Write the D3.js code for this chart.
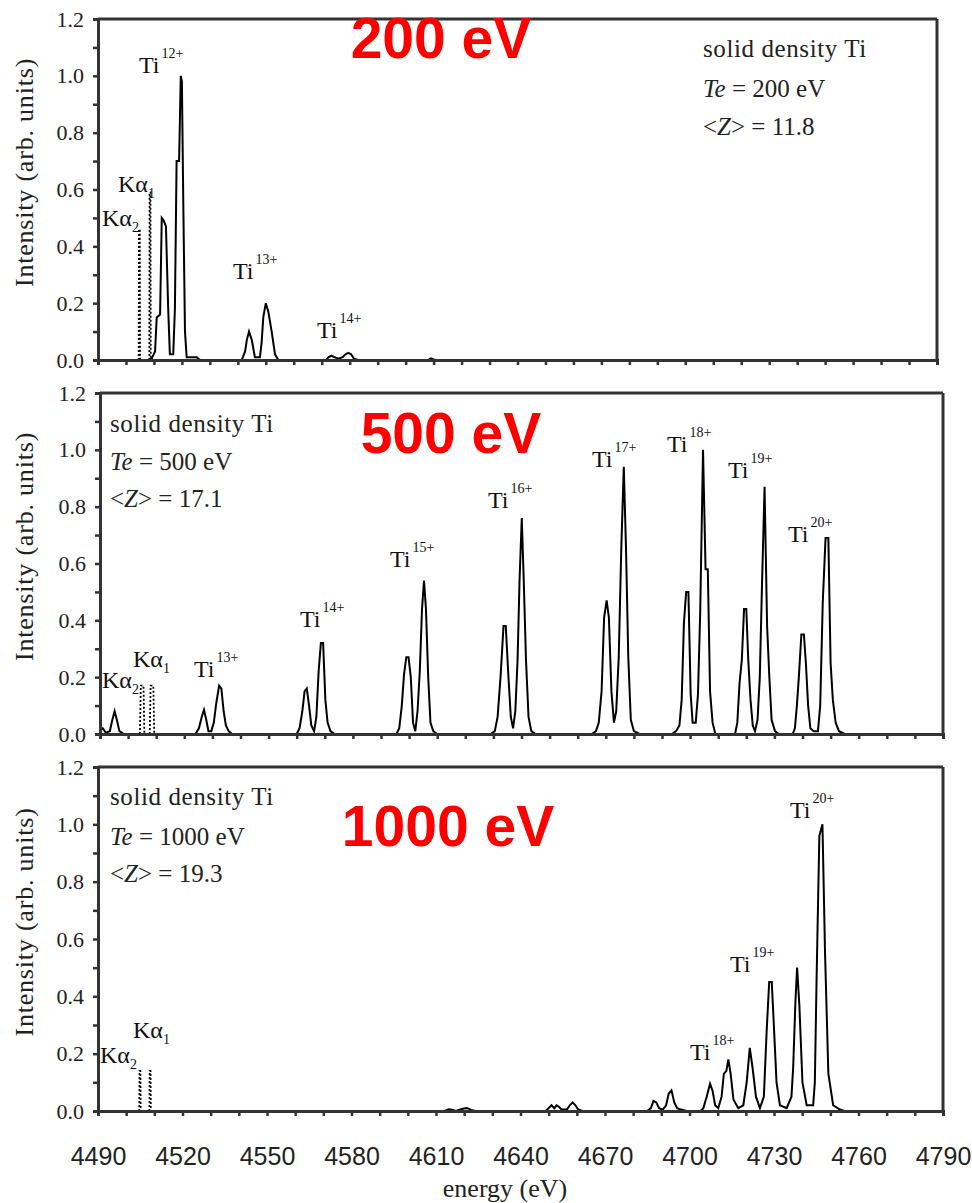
<!DOCTYPE html>
<html><head><meta charset="utf-8">
<script src="https://cdn.jsdelivr.net/npm/d3@7"></script>
<style>body{margin:0;background:#fff}</style>
</head><body>
<svg id="chart" width="972" height="1203"></svg>
<script>
// ---------------- data ----------------
const energyTickLabels = [4490, 4520, 4550, 4580, 4610, 4640, 4670, 4700, 4730, 4760, 4790];
const intensityTickLabels = [0.0, 0.2, 0.4, 0.6, 0.8, 1.0, 1.2];
const panelTitles = ["200 eV", "500 eV", "1000 eV"];
const teValues = ["200", "500", "1000"];
const zValues = ["11.8", "17.1", "19.3"];

// spectra: [energy (eV), intensity]
const spectrum200 = [
  [4490,0],[4508,0],[4509.2,0.005],[4510.4,0.03],[4511,0.15],[4512.2,0.16],[4512.8,0.5],[4513.5,0.49],[4514.3,0.47],
  [4515.1,0.18],[4515.7,0.02],[4516.9,0.02],[4517.5,0.18],[4518.1,0.7],[4519,0.7],[4519.6,1.0],[4520,0.98],[4520.5,0.55],
  [4521.1,0.1],[4521.7,0.01],[4525.3,0.01],[4526.5,0],
  [4541.4,0],[4542.6,0.03],[4543.2,0.07],[4544,0.1],[4545,0.07],[4546.1,0.01],[4547.9,0.01],[4548.5,0.06],[4549.1,0.15],
  [4550,0.2],[4550.9,0.17],[4552.1,0.1],[4553.3,0.02],[4554.5,0],
  [4571.5,0],[4572.5,0.01],[4573.5,0.015],[4574.5,0.01],[4576,0.005],[4577.5,0.01],[4578.5,0.02],[4579.5,0.025],
  [4580.5,0.02],[4581.5,0.005],[4583,0],
  [4608,0],[4609,0.006],[4610,0.002],[4611,0],[4790,0]
];
const spectrum500 = [
  [4490,0.01],[4491,0.02],[4492,0.005],[4493.5,0.01],[4494.4,0.05],[4495.2,0.08],[4496,0.05],[4496.9,0.01],[4498.5,0],
  [4524,0],[4525.2,0.02],[4526.2,0.06],[4527,0.085],[4527.8,0.05],[4528.6,0.01],[4529.6,0.01],[4530.5,0.04],[4531.4,0.11],
  [4532.4,0.17],[4533.2,0.16],[4534,0.08],[4534.8,0.03],[4535.8,0.01],[4537,0],
  [4560,0],[4561,0.02],[4562,0.08],[4562.8,0.15],[4563.6,0.16],[4564.4,0.1],[4565.2,0.03],[4566.2,0.01],[4567,0.06],
  [4567.8,0.22],[4568.6,0.32],[4569.4,0.32],[4570.2,0.12],[4571,0.04],[4572,0.01],[4573.5,0],
  [4595.5,0],[4596.5,0.02],[4597.4,0.1],[4598.2,0.21],[4599,0.27],[4599.8,0.27],[4600.6,0.2],[4601.4,0.04],[4602.2,0.01],
  [4603,0.08],[4603.8,0.22],[4604.6,0.44],[4605.3,0.54],[4606,0.44],[4606.8,0.2],[4607.6,0.04],[4608.6,0.01],[4610,0],
  [4629,0],[4630.5,0.01],[4631.5,0.06],[4632.6,0.21],[4633.6,0.38],[4634.4,0.38],[4635.3,0.21],[4636.2,0.06],[4637,0.02],
  [4637.8,0.08],[4638.6,0.26],[4639.3,0.54],[4640.1,0.76],[4640.8,0.54],[4641.6,0.26],[4642.5,0.06],[4643.5,0.01],[4645,0],
  [4665,0],[4666.5,0.01],[4667.5,0.04],[4668.5,0.15],[4669.4,0.41],[4670.3,0.47],[4671.1,0.41],[4672,0.15],[4672.9,0.04],
  [4673.7,0.08],[4674.6,0.27],[4675.5,0.65],[4676.4,0.94],[4677.2,0.65],[4678,0.27],[4678.9,0.05],[4680,0.01],[4682,0],
  [4693.5,0],[4695,0.01],[4696.2,0.03],[4697,0.12],[4697.8,0.39],[4698.6,0.5],[4699.4,0.5],[4700.2,0.14],[4700.9,0.04],
  [4702,0.04],[4702.8,0.14],[4703.6,0.43],[4704.6,1.0],[4705.5,0.58],[4706.3,0.58],[4707.1,0.15],[4708,0.04],[4709,0],
  [4716,0],[4716.8,0.04],[4717.6,0.18],[4718.4,0.26],[4719.2,0.44],[4720,0.44],[4720.7,0.26],[4721.5,0.12],[4722.3,0.03],
  [4723.1,0.01],[4724,0.05],[4724.8,0.2],[4725.6,0.53],[4726.5,0.87],[4727.4,0.38],[4728.2,0.2],[4729,0.05],[4730.2,0.01],[4731.5,0],
  [4736.5,0],[4737.3,0.02],[4738,0.1],[4738.7,0.2],[4739.6,0.35],[4740.5,0.35],[4741.2,0.25],[4742,0.1],[4742.8,0.02],
  [4744,0.01],[4745.5,0.01],[4746.3,0.1],[4747.2,0.46],[4748.2,0.69],[4749.2,0.69],[4750,0.25],[4750.8,0.12],[4751.8,0.04],
  [4753,0.01],[4755,0],[4790,0]
];
const spectrum1000 = [
  [4490,0],[4613,0],[4614.5,0.006],[4616,0.004],[4617,0],[4619.5,0.008],[4621,0.01],[4622.5,0.004],[4624,0],
  [4649,0],[4650,0.01],[4651,0.02],[4652,0.01],[4652.8,0.02],[4653.6,0.015],[4654.6,0.005],[4656.5,0.005],[4657.5,0.02],
  [4658.5,0.03],[4659.5,0.02],[4660.5,0.005],[4662,0],
  [4685,0],[4686.3,0.01],[4687.2,0.035],[4688.2,0.03],[4689.2,0.01],[4690.5,0.005],[4691.7,0.02],[4692.6,0.06],[4693.6,0.072],
  [4694.6,0.03],[4695.6,0.01],[4697,0.005],[4699,0],
  [4704,0],[4704.9,0.01],[4706.1,0.05],[4707.3,0.095],[4708.2,0.07],[4709.1,0.02],[4710.2,0.01],[4711.4,0.05],[4712.2,0.13],
  [4713.1,0.14],[4713.8,0.18],[4714.6,0.13],[4715.6,0.04],[4717.3,0.01],[4719.1,0.02],[4720.3,0.1],[4721.4,0.22],[4722.4,0.15],
  [4723.6,0.05],[4725,0.01],[4726.4,0.05],[4727.4,0.28],[4728.3,0.45],[4729.2,0.45],[4729.7,0.35],[4730.9,0.1],[4732.1,0.02],
  [4734.5,0.01],[4736.2,0.05],[4736.8,0.15],[4737.6,0.38],[4738.2,0.5],[4739,0.37],[4740.1,0.1],[4741.6,0.02],[4743.9,0.02],
  [4744.5,0.1],[4745.1,0.45],[4746.1,0.96],[4747.2,1.0],[4748.1,0.56],[4749.3,0.13],[4751,0.02],[4753.4,0.005],[4755,0],[4790,0]
];
// K-alpha reference lines: [energy, height]
const kalpha200 = [[4504.8,0.46],[4508.6,0.59]];
const kalpha500 = [[4505.0,0.17],[4508.5,0.17]];
const kalpha1000 = [[4504.9,0.14],[4508.5,0.14]];
// ion-stage labels
const ions200 = ["12+","13+","14+"];
const ions500 = ["13+","14+","15+","16+","17+","18+","19+","20+"];
const ions1000 = ["18+","19+","20+"];

// ---------------- layout ----------------
const layout = [
  {box:{l:98,r:937,t:19,b:360}, kaWidth:0.25,
   ionPos:[[139,73],[233,279],[317,338]],
   ka1:[118,192], ka2:[102,226],
   info:{x:703,y:[57,97,135]}, title:{x:441,y:58}},
  {box:{l:100,r:943,t:393,b:734}, kaWidth:0.8,
   ionPos:[[194,677],[300,627],[390,567],[488,508],[592,467],[667,452],[728,478],[788,542]],
   ka1:[133,667], ka2:[102,688],
   info:{x:110,y:[432,470,507]}, title:{x:451,y:453}},
  {box:{l:98,r:943,t:767,b:1111}, kaWidth:0.25,
   ionPos:[[690,1060],[730,972],[790,818]],
   ka1:[133,1038], ka2:[100,1063],
   info:{x:110,y:[805,845,882]}, title:{x:448,y:846}}
];
const spectra = [spectrum200, spectrum500, spectrum1000];
const kalphas = [kalpha200, kalpha500, kalpha1000];
const ions = [ions200, ions500, ions1000];

const svg = d3.select("#chart");
const serif = "'Liberation Serif','Times New Roman',serif";
const sans = "'Liberation Sans',Arial,sans-serif";
const frameColor = "#333";

layout.forEach((L, i) => {
  const b = L.box;
  const x = d3.scaleLinear().domain([4490, 4790]).range([b.l, b.r]);
  const y = d3.scaleLinear().domain([0, 1.2]).range([b.b, b.t]);
  const g = svg.append("g");

  // spectrum
  const line = d3.line().x(d => x(d[0])).y(d => y(d[1]));
  g.append("path").datum(spectra[i]).attr("d", line)
    .attr("fill", "none").attr("stroke", "#000").attr("stroke-width", 2).attr("stroke-linejoin", "miter");

  // K-alpha dotted lines
  kalphas[i].forEach(k => {
    const w = L.kaWidth;
    const pts = [[k[0]-w,0],[k[0]-w*0.6,k[1]],[k[0]+w*0.6,k[1]],[k[0]+w,0]];
    g.append("path").datum(pts).attr("d", line).attr("fill", "none")
      .attr("stroke", "#000").attr("stroke-width", 1.8).attr("stroke-dasharray", "2,2");
  });

  // frame
  g.append("line").attr("x1", b.l).attr("x2", b.r).attr("y1", b.t).attr("y2", b.t)
    .attr("stroke", frameColor).attr("stroke-width", 3);
  g.append("line").attr("x1", b.r).attr("x2", b.r).attr("y1", b.t).attr("y2", b.b)
    .attr("stroke", frameColor).attr("stroke-width", 3);

  // axes
  const xAxis = d3.axisBottom(x).tickValues(d3.range(4490, 4791, 10)).tickSize(5).tickPadding(31)
    .tickFormat(v => (i === 2 && energyTickLabels.includes(v)) ? String(v) : "");
  const gx = g.append("g").attr("transform", `translate(0,${b.b})`).call(xAxis);
  gx.select(".domain").attr("stroke", frameColor).attr("stroke-width", 3);
  gx.selectAll(".tick line").attr("stroke", frameColor).attr("stroke-width", 2.5);
  gx.selectAll(".tick text").attr("font-family", sans).attr("font-size", 25).attr("fill", "#222");

  const yAxis = d3.axisLeft(y).tickValues(d3.range(0, 13).map(v => v / 10)).tickSize(5).tickPadding(9)
    .tickFormat(v => {
      const m = intensityTickLabels.find(t => Math.abs(t - v) < 1e-6);
      return m === undefined ? "" : m.toFixed(1);
    });
  const gy = g.append("g").attr("transform", `translate(${b.l},0)`).call(yAxis);
  gy.select(".domain").attr("stroke", frameColor).attr("stroke-width", 3);
  gy.selectAll(".tick line").attr("stroke", frameColor).attr("stroke-width", 2.5);
  gy.selectAll(".tick text").attr("font-family", serif).attr("font-size", 22).attr("fill", "#222");

  // y title
  const cy = (b.t + b.b) / 2 - 17;
  g.append("text").attr("transform", `translate(33,${cy}) rotate(-90)`)
    .attr("text-anchor", "middle").attr("font-family", serif).attr("font-size", 26)
    .attr("letter-spacing", 0.8).attr("fill", "#222").text("Intensity (arb. units)");

  // ion labels
  ions[i].forEach((lab, j) => {
    const p = L.ionPos[j];
    const t = g.append("text").attr("x", p[0]).attr("y", p[1]).attr("font-family", serif)
      .attr("font-size", 24).attr("fill", "#111");
    t.append("tspan").text("Ti");
    t.append("tspan").attr("dy", -15).attr("dx", 2).attr("font-size", 14).text(lab);
  });

  // K-alpha labels
  [[L.ka1, "1"], [L.ka2, "2"]].forEach(([p, s]) => {
    const t = g.append("text").attr("x", p[0]).attr("y", p[1]).attr("font-family", serif)
      .attr("font-size", 24).attr("fill", "#111");
    t.append("tspan").text("Kα");
    t.append("tspan").attr("dy", 6).attr("font-size", 14).text(s);
  });

  // info block
  const fi = L.info;
  g.append("text").attr("x", fi.x).attr("y", fi.y[0]).attr("font-family", serif)
    .attr("font-size", 25).attr("letter-spacing", 0.6).attr("fill", "#222").text("solid density Ti");
  const info2 = g.append("text").attr("x", fi.x).attr("y", fi.y[1]).attr("font-family", serif)
    .attr("font-size", 25).attr("fill", "#222");
  info2.append("tspan").attr("font-style", "italic").text("Te");
  info2.append("tspan").text(` = ${teValues[i]} eV`);
  const info3 = g.append("text").attr("x", fi.x).attr("y", fi.y[2]).attr("font-family", serif)
    .attr("font-size", 25).attr("fill", "#222");
  info3.append("tspan").text("<");
  info3.append("tspan").attr("font-style", "italic").text("Z");
  info3.append("tspan").text(`> = ${zValues[i]}`);

  // red title
  g.append("text").attr("x", L.title.x).attr("y", L.title.y).attr("text-anchor", "middle")
    .attr("font-family", sans).attr("font-weight", "bold").attr("font-size", 57)
    .attr("fill", "#f00").text(panelTitles[i]);
});

// x-axis title
svg.append("text").attr("x", 505).attr("y", 1197).attr("text-anchor", "middle")
  .attr("font-family", serif).attr("font-size", 26).attr("fill", "#222").text("energy (eV)");
</script>
</body></html>
